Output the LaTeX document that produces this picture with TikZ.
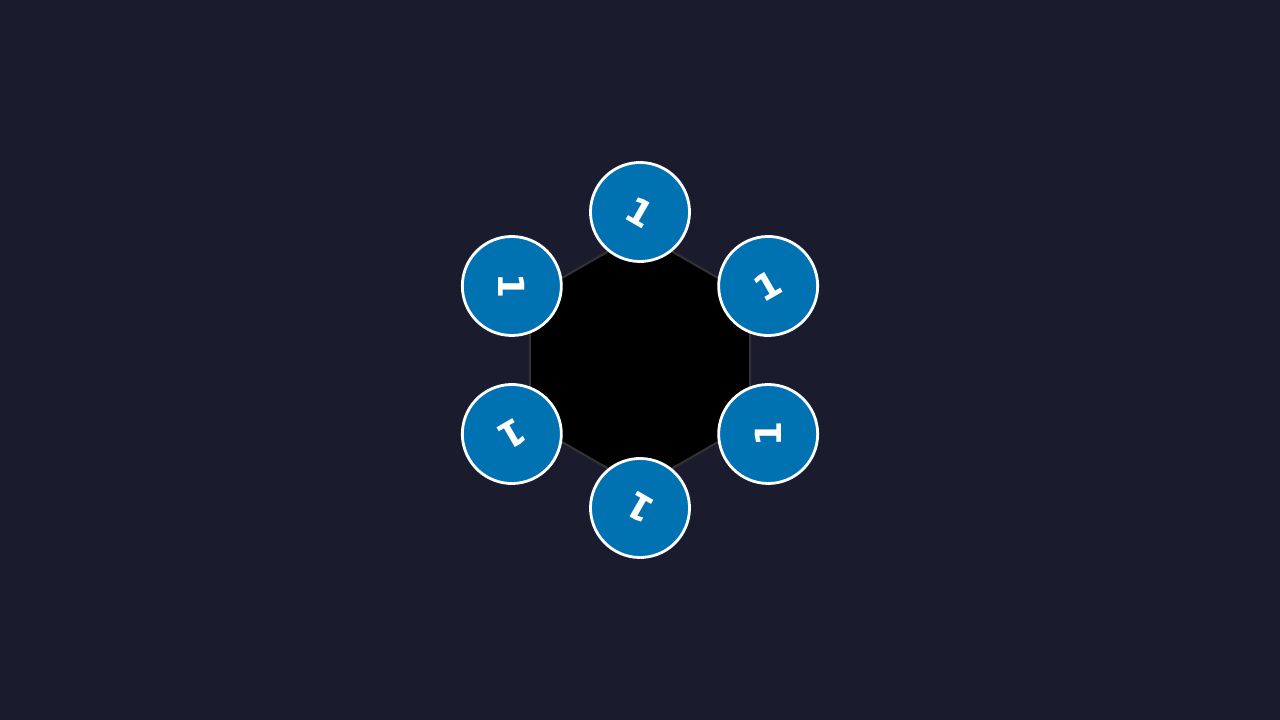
\documentclass[tikz,border=0pt]{standalone}
\usepackage{fontspec}
\setsansfont{DejaVu Sans}
\usetikzlibrary{positioning}

\definecolor{bgnavy}{HTML}{1B1B2E}
\definecolor{ringblue}{HTML}{0072B2}
\definecolor{rimgray}{HTML}{333333}

\begin{document}
\begin{tikzpicture}[
  x=1pt, y=1pt,
  main node/.style={draw=white, line width=2.8pt, circle, fill=ringblue,
    minimum size=99pt, inner sep=0pt, text=white,
    font=\sffamily\bfseries\fontsize{36}{36}\selectfont},
]
  \newcommand*{\RingNum}{6}
  \newcommand*{\RingRadius}{148}
  \newcommand*{\HexRadius}{127}
  \newcommand*{\RingStartAngle}{90}

  % Background and page size
  \fill[bgnavy] (0,0) rectangle (1280,720);
  \useasboundingbox (0,0) rectangle (1280,720);

  % Node points c_1, c_2, ... and hexagon corners h_1, h_2, ... (clockwise from top)
  \path
    (640, 360) coordinate (M)
    \foreach \i in {1,...,\RingNum} {
      +({\RingStartAngle - (\i-1)*360/\RingNum}:\RingRadius) coordinate (c_\i)
      +({\RingStartAngle - (\i-1)*360/\RingNum}:\HexRadius) coordinate (h_\i)
    }
  ;

  % Black hexagon behind the nodes
  \draw[rimgray, line width=2pt, fill=black]
    (h_1) -- (h_2) -- (h_3) -- (h_4) -- (h_5) -- (h_6) -- cycle;

  % Main nodes, names: s_1, s_2, ...
  \foreach \i in {1,...,\RingNum} {
    \node[main node, rotate={(\i-1)*360/\RingNum - 30}] (s_\i) at (c_\i) {1};
  }

\end{tikzpicture}
\end{document}
